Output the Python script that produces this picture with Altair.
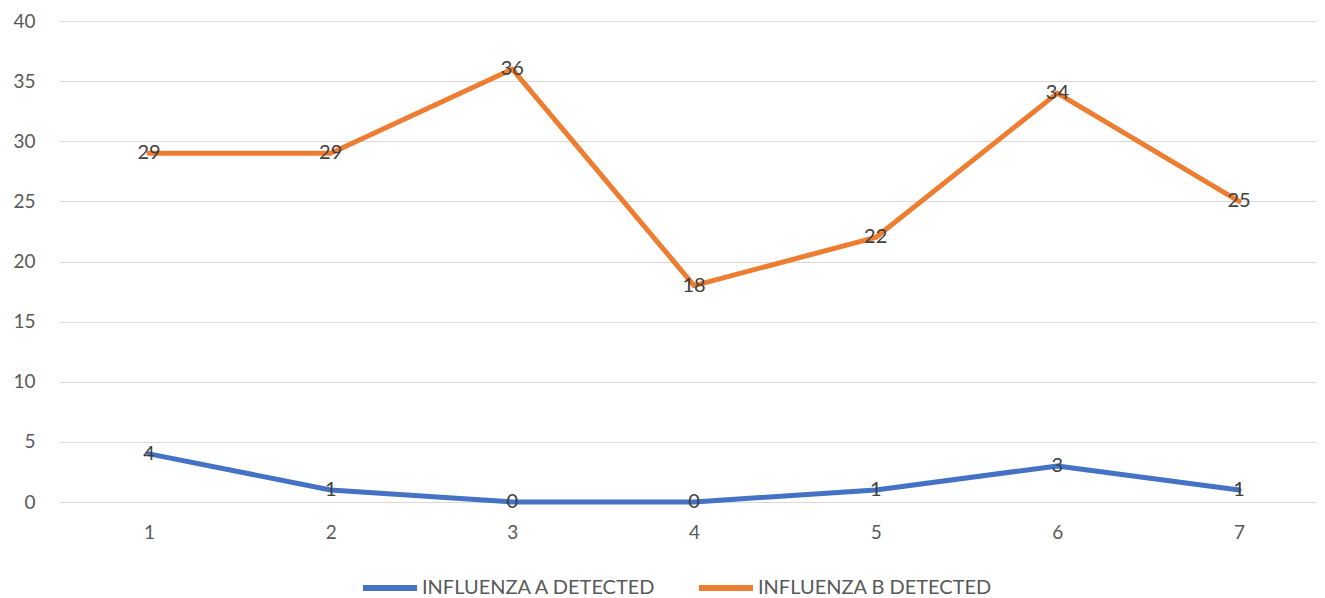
import altair as alt
import pandas as pd

categories = [1, 2, 3, 4, 5, 6, 7]
influenza_a = [4, 1, 0, 0, 1, 3, 1]
influenza_b = [29, 29, 36, 18, 22, 34, 25]
series_names = ["INFLUENZA A DETECTED", "INFLUENZA B DETECTED"]
series_colors = ["#4472C4", "#ED7D31"]

rows = []
for name, vals in zip(series_names, [influenza_a, influenza_b]):
    for c, v in zip(categories, vals):
        rows.append({"week": c, "value": v, "series": name})
df = pd.DataFrame(rows)

FONT = "Lato"

x = alt.X("week:Q",
          scale=alt.Scale(domain=[0.5046, 7.429], nice=False, zero=False),
          axis=alt.Axis(values=categories, title=None, grid=False, domain=False,
                        ticks=False, labelFontSize=19, labelColor="#595959",
                        labelFont=FONT, labelPadding=21, format="d"))
y = alt.Y("value:Q",
          scale=alt.Scale(domain=[0, 40], nice=False),
          axis=alt.Axis(values=list(range(0, 41, 5)), title=None, domain=False,
                        ticks=False, gridColor="#D9D9D9", gridWidth=1.2,
                        labelFontSize=19, labelColor="#595959", labelFont=FONT,
                        labelPadding=24))
color = alt.Color("series:N",
                  scale=alt.Scale(domain=series_names, range=series_colors),
                  legend=alt.Legend(title=None, orient="none", direction="horizontal",
                                    legendX=301, legendY=537,
                                    symbolType="stroke", symbolStrokeWidth=6,
                                    symbolSize=2916, labelFontSize=20,
                                    labelFont=FONT, labelColor="#595959",
                                    labelOffset=2, columnPadding=30,
                                    labelLimit=500))

lines = alt.Chart(df).mark_line(strokeWidth=5, strokeCap="round", strokeJoin="round").encode(
    x=x, y=y, color=color, detail="series:N")
labels = alt.Chart(df).mark_text(fontSize=20, font=FONT, color="#404040",
                                 align="center", baseline="middle").encode(
    x=x, y=y, text=alt.Text("value:Q"))

chart = alt.layer(lines, labels).properties(
    width=1258, height=481,
    background="white",
    autosize=alt.AutoSizeParams(type="none"),
    padding={"left": 51, "top": 13, "right": 0, "bottom": 96},
).configure_view(stroke=None)

chart.save("out.html", embed_options={"renderer": "svg", "actions": False})
